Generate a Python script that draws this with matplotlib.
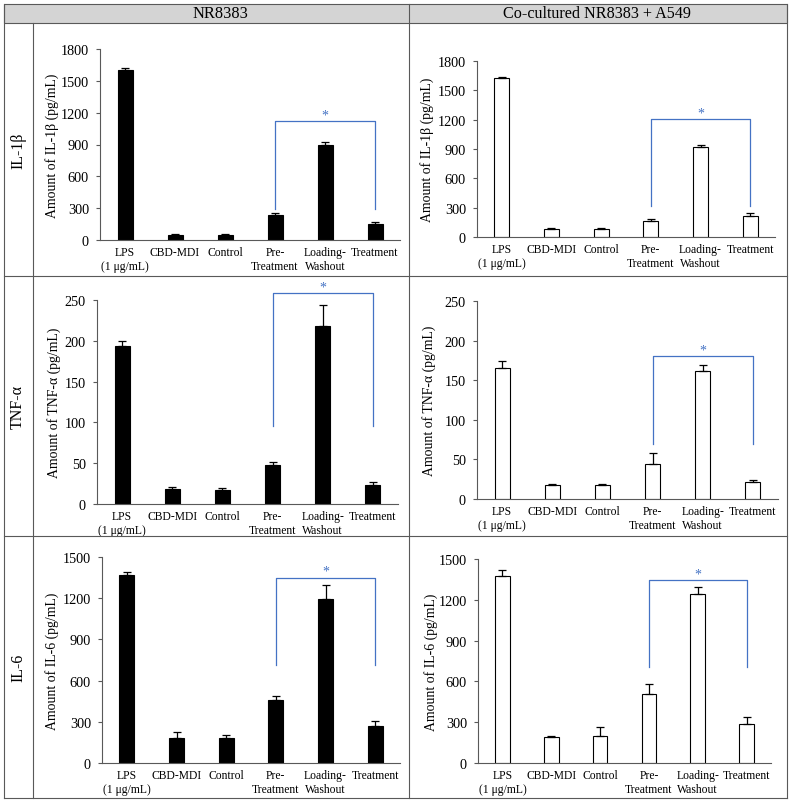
import numpy as np
import matplotlib.pyplot as plt
from matplotlib.lines import Line2D
from matplotlib.patches import Rectangle

plt.rcParams['font.family'] = ['Liberation Serif', 'DejaVu Serif']

W, H = 789, 803

groups = ['LPS\n(1 μg/mL)', 'CBD-MDI', 'Control', 'Pre-\nTreatment', 'Loading-\nWashout', 'Treatment']
col_titles = ['NR8383', 'Co-cultured NR8383 + A549']
row_titles = ['IL-1β', 'TNF-α', 'IL-6']

# mean values and upper error (pg/mL)
il1b_nr = [1605, 47, 47, 239, 894, 148]
il1b_nr_err = [12, 5, 8, 18, 25, 25]
il1b_co = [1625, 85, 85, 160, 917, 214]
il1b_co_err = [8, 3, 5, 20, 25, 28]
tnf_nr = [194, 18.4, 17.5, 47.5, 218, 23.5]
tnf_nr_err = [6, 2, 1.5, 3.5, 26, 3]
tnf_co = [165, 17.6, 17.6, 44, 162, 21]
tnf_co_err = [9, 1.2, 1, 14, 7, 3]
il6_nr = [1366, 182, 184, 459, 1192, 269]
il6_nr_err = [25, 44, 17, 29, 102, 34]
il6_co = [1378, 190, 202, 507, 1244, 288]
il6_co_err = [44, 8, 61, 73, 51, 49]

# significance bracket: (bar height, leg bottom)
sig_il1b_nr = (1117, 296)
sig_il1b_co = (1206, 312)
sig_tnf_nr = (258, 96)
sig_tnf_co = (180, 70)
sig_il6_nr = (1347, 711)
sig_il6_co = (1344, 707)

y_max = [1800, 250, 1500]
y_step = [300, 50, 300]

# row, col, values, errors, bracket, axes box in px (left, zero, right, top), ylabel x
panels = [
    (0, 0, il1b_nr, il1b_nr_err, sig_il1b_nr, (100, 241, 400, 50), -0.138),
    (0, 1, il1b_co, il1b_co_err, sig_il1b_co, (477, 238, 775, 62), -0.143),
    (1, 0, tnf_nr, tnf_nr_err, sig_tnf_nr, (97, 505, 398, 301), -0.118),
    (1, 1, tnf_co, tnf_co_err, sig_tnf_co, (477, 500, 778, 302), -0.135),
    (2, 0, il6_nr, il6_nr_err, sig_il6_nr, (102, 764, 400, 558), -0.143),
    (2, 1, il6_co, il6_co_err, sig_il6_co, (478, 764, 771, 560), -0.135),
]

fig = plt.figure(figsize=(W / 100, H / 100), dpi=100)

def fx(x):
    return x / W

def fy(y):
    return 1 - y / H

# table frame
line_c = '#595959'
fig.add_artist(Rectangle((fx(4), fy(24)), fx(787) - fx(4), fy(5) - fy(24),
                         transform=fig.transFigure, facecolor='#d4d4d4',
                         edgecolor=line_c, lw=0.8))
for y in [277, 537, 799]:
    fig.add_artist(Line2D([fx(4), fx(787)], [fy(y), fy(y)], color=line_c, lw=0.8))
for x in [4, 787]:
    fig.add_artist(Line2D([fx(x), fx(x)], [fy(5), fy(799)], color=line_c, lw=0.8))
fig.add_artist(Line2D([fx(409), fx(409)], [fy(5), fy(799)], color=line_c, lw=0.8))
fig.add_artist(Line2D([fx(33), fx(33)], [fy(24), fy(799)], color=line_c, lw=0.8))

fig.text(fx(220), fy(14.5), col_titles[0], ha='center', va='center', fontsize=11.8)
fig.text(fx(597), fy(14.5), col_titles[1], ha='center', va='center', fontsize=11.6)
row_bounds = [(24, 277), (277, 537), (537, 799)]
for name, (t, b) in zip(row_titles, row_bounds):
    fig.text(fx(18), fy((t + b) / 2), name, rotation=90, ha='center', va='center', fontsize=11.5)

blue = '#4472C4'
x = np.arange(len(groups))

for r, c, vals, err, sig, (l, b, rt, t), lab_x in panels:
    ax = fig.add_axes([fx(l), fy(b), fx(rt) - fx(l), fy(t) - fy(b)])
    ax.patch.set_alpha(0)
    face = 'black' if c == 0 else 'white'
    ax.bar(x, vals, width=0.3, color=face, edgecolor='black', linewidth=0.8, zorder=2)
    ax.errorbar(x, vals, yerr=[np.zeros(len(vals)), err], fmt='none',
                ecolor='black', elinewidth=0.9, capsize=3, capthick=0.9, zorder=3)
    ax.set_xlim(-0.5, len(groups) - 0.5)
    ax.set_ylim(0, y_max[r])
    ax.set_yticks(np.arange(0, y_max[r] + 1, y_step[r]))
    ax.set_xticks(x)
    ax.set_xticklabels(groups, fontsize=8.4, linespacing=1.25)
    ax.tick_params(axis='x', length=0, pad=4)
    ax.tick_params(axis='y', length=3, width=0.8, color=line_c, labelsize=10.3, pad=5)
    for s in ['top', 'right']:
        ax.spines[s].set_visible(False)
    for s in ['left', 'bottom']:
        ax.spines[s].set_color(line_c)
        ax.spines[s].set_linewidth(0.8)
    ax.set_ylabel('Amount of %s (pg/mL)' % row_titles[r], fontsize=9.9)
    ax.yaxis.set_label_coords(lab_x, 0.5)

    top, low = sig
    ax.plot([3, 3, 5, 5], [low, top, top, low], color=blue, lw=0.9, clip_on=False, zorder=4)
    ax.text(4, top, '*', color=blue, ha='center', va='bottom', fontsize=10, clip_on=False)

fig.savefig('out.png', dpi=100)
